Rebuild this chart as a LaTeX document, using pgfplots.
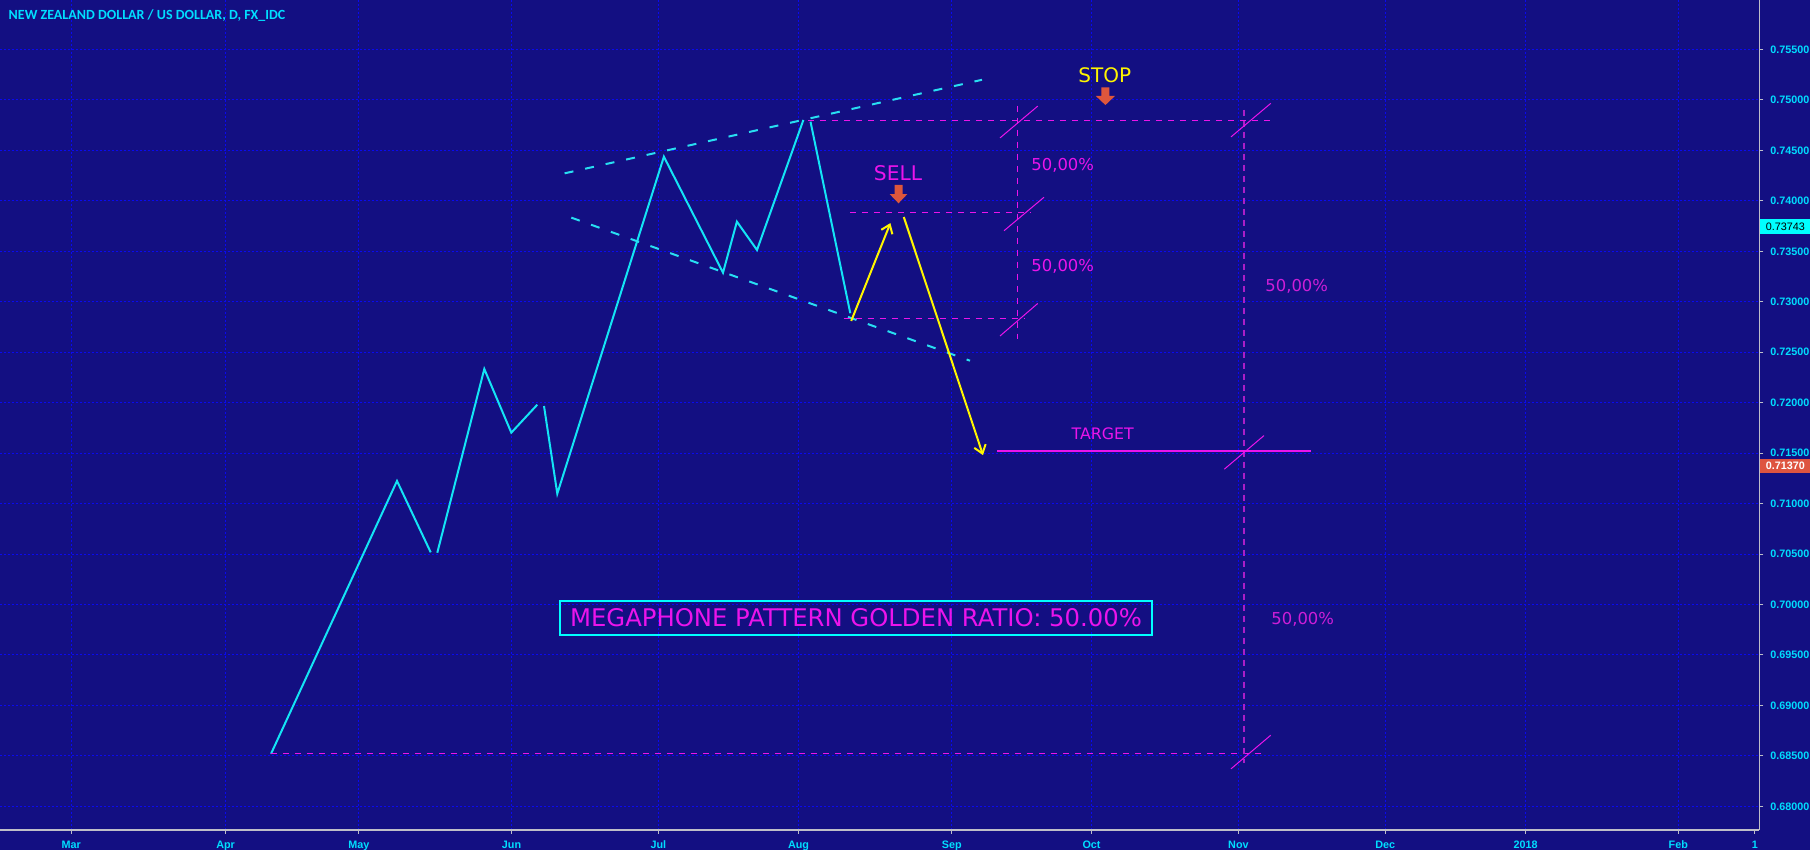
\documentclass[border=0pt]{standalone}
\usepackage{pgfplots}
\pgfplotsset{compat=1.18}
\usepackage{fontspec}
\usetikzlibrary{arrows.meta}
\newfontfamily\tickfont{Liberation Sans}
\newfontfamily\dv{DejaVu Sans}
\newfontfamily\titlefont{Carlito}
\definecolor{bg}{RGB}{19,15,130}
\definecolor{gridblue}{RGB}{10,10,240}
\definecolor{pricecyan}{RGB}{20,228,245}
\definecolor{dashcyan}{RGB}{40,222,242}
\definecolor{ylw}{RGB}{255,245,0}
\definecolor{mag}{RGB}{235,20,235}
\definecolor{mag2}{RGB}{205,30,215}
\definecolor{purp}{RGB}{170,30,200}
\definecolor{arrred}{RGB}{222,86,60}
\definecolor{tickcyan}{RGB}{0,222,255}
\definecolor{axgray}{RGB}{190,190,200}
\definecolor{tagcyan}{RGB}{0,255,255}
\definecolor{tagred}{RGB}{222,84,64}
\begin{document}
\begin{tikzpicture}
\fill[bg] (0,-10pt) rectangle (905pt,415pt);
\begin{axis}[
  at={(0,0)}, anchor=south west,
  width=879.7pt, height=415pt, scale only axis,
  xmin=0, xmax=1759.4, ymin=0.67765, ymax=0.75991,
  clip=false, no markers,
  axis x line*=bottom, axis y line*=right,
  axis line style={draw=axgray, line width=0.6pt},
  scaled x ticks=false, scaled y ticks=false,
  xtick={71.2,225.6,358.8,511.5,658.4,798.5,951.7,1091.5,1238.4,1385.2,1525.7,1678.3},
  xticklabels={Mar,Apr,May,Jun,Jul,Aug,Sep,Oct,Nov,Dec,2018,Feb},
  extra x ticks={1754.9}, extra x tick labels={1},
  extra x tick style={grid=none},
  ytick={0.680,0.685,0.690,0.695,0.700,0.705,0.710,0.715,0.720,0.725,0.730,0.735,0.740,0.745,0.750,0.755},
  yticklabel pos=right,
  grid=major,
  major grid style={draw=gridblue, line width=0.5pt, dash pattern=on 1pt off 1pt},
  tick align=outside, major tick length=2pt,
  tick style={draw=axgray, line width=0.5pt},
  yticklabel style={/pgf/number format/fixed, /pgf/number format/fixed zerofill, /pgf/number format/precision=5, /pgf/number format/assume math mode=true, anchor=west, inner sep=0pt, xshift=3.3pt, font=\tickfont\bfseries\fontsize{5.4}{6}\selectfont, text=tickcyan},
  xticklabel style={anchor=base, inner sep=0pt, yshift=-7.2pt, font=\tickfont\bfseries\fontsize{5.4}{6}\selectfont, text=tickcyan},
]
% cyan price path
\addplot[pricecyan, line width=1pt] coordinates {(271,0.6852) (397,0.71224) (430.7,0.70517)};
\addplot[pricecyan, line width=1pt] coordinates {(437.3,0.70513) (484.3,0.72334) (511.3,0.71703) (537.3,0.71980)};
\addplot[pricecyan, line width=1pt] coordinates {(544,0.71967) (557.3,0.71098) (663.9,0.74438) (723,0.73288) (736.9,0.73794) (757,0.73513) (803.4,0.74802)};
\addplot[pricecyan, line width=1pt] coordinates {(810.5,0.74785) (850.3,0.72886)};
% megaphone dashed lines
\addplot[dashcyan, line width=1pt, dash pattern=on 4.5pt off 6pt] coordinates {(564.6,0.74273) (982,0.7520)};
\addplot[dashcyan, line width=1pt, dash pattern=on 4.5pt off 6pt] coordinates {(571.3,0.73834) (970,0.72416)};
% yellow arrows
\addplot[ylw, line width=1pt, -{Straight Barb[length=4pt,width=6pt]}] coordinates {(851.2,0.7281) (890.4,0.7378)};
\addplot[ylw, line width=1pt, -{Straight Barb[length=4pt,width=6pt]}] coordinates {(903.8,0.7384) (983,0.7148)};
% magenta dashed levels
\addplot[mag, line width=0.5pt, dash pattern=on 3pt off 3pt] coordinates {(808,0.7480) (1270.7,0.7480)};
\addplot[mag, line width=0.5pt, dash pattern=on 3pt off 3pt] coordinates {(850.3,0.7388) (1031,0.7388)};
\addplot[mag, line width=0.5pt, dash pattern=on 3pt off 3pt] coordinates {(843.6,0.7283) (1024,0.7283)};
\addplot[mag, line width=0.5pt, dash pattern=on 3pt off 3pt] coordinates {(271,0.6852) (1266,0.6852)};
\addplot[mag, line width=0.5pt, dash pattern=on 3pt off 3pt] coordinates {(1017.3,0.74943) (1017.3,0.72627)};
\addplot[purp, line width=1.2pt, dash pattern=on 3pt off 2.5pt] coordinates {(1244,0.74905) (1244,0.68429)};
% target line
\addplot[mag, line width=0.7pt] coordinates {(997.3,0.7152) (1310.7,0.7152)};
% slash marks
\addplot[mag, line width=0.5pt] coordinates {(1000,0.74624) (1037.7,0.74939)};
\addplot[mag, line width=0.5pt] coordinates {(1004,0.73704) (1044,0.74036)};
\addplot[mag, line width=0.5pt] coordinates {(1000,0.72661) (1037.7,0.72983)};
\addplot[mag, line width=0.5pt] coordinates {(1231,0.74634) (1270.7,0.74966)};
\addplot[mag, line width=0.5pt] coordinates {(1224.3,0.71341) (1264,0.71674)};
\addplot[mag, line width=0.5pt] coordinates {(1231,0.68371) (1270.7,0.68704)};
% block arrows
\addplot[fill=arrred, draw=none] coordinates {(1101.4,0.75126) (1109.4,0.75126) (1109.4,0.75040) (1115,0.75040) (1105.4,0.74950) (1095.8,0.75040) (1101.4,0.75040)} --cycle;
\addplot[fill=arrred, draw=none] coordinates {(894.5,0.74158) (902.5,0.74158) (902.5,0.74068) (907.4,0.74068) (898.5,0.73976) (889.6,0.74068) (894.5,0.74068)} --cycle;
% texts
\node[anchor=west, inner sep=0pt, font=\titlefont\bfseries\fontsize{7}{8}\selectfont, text=tickcyan] at (axis cs:8.3,0.75833) {NEW ZEALAND DOLLAR / US DOLLAR, D, FX\_IDC};
\node[inner sep=0pt, font=\dv\fontsize{10.1}{12}\selectfont, text=mag] at (axis cs:898,0.74276) {SELL};
\node[inner sep=0pt, font=\dv\fontsize{10}{12}\selectfont, text=ylw] at (axis cs:1104.7,0.75248) {STOP};
\node[inner sep=0pt, font=\dv\fontsize{8.2}{10}\selectfont, text=mag] at (axis cs:1062.7,0.74349) {50,00\%};
\node[inner sep=0pt, font=\dv\fontsize{8.2}{10}\selectfont, text=mag] at (axis cs:1062.7,0.73348) {50,00\%};
\node[inner sep=0pt, font=\dv\fontsize{8.2}{10}\selectfont, text=mag2] at (axis cs:1296.7,0.73157) {50,00\%};
\node[inner sep=0pt, font=\dv\fontsize{8.2}{10}\selectfont, text=mag2] at (axis cs:1302.7,0.69849) {50,00\%};
\node[inner sep=0pt, font=\dv\fontsize{7.9}{10}\selectfont, text=mag] at (axis cs:1102.7,0.71692) {TARGET};
\node[draw=tagcyan, line width=1pt, inner sep=0pt, minimum width=296pt, minimum height=17pt, font=\dv\fontsize{12.15}{14}\selectfont, text=mag] at (axis cs:856,0.69866) {MEGAPHONE PATTERN GOLDEN RATIO: 50.00\%};
% price tags
\node[fill=tagcyan, anchor=west, inner sep=0pt, minimum width=25.5pt, minimum height=7.5pt, font=\tickfont\fontsize{5.4}{6}\selectfont, text=black] at (axis cs:1759.4,0.73743) {0.73743};
\node[fill=tagred, anchor=west, inner sep=0pt, minimum width=25.5pt, minimum height=7pt, font=\tickfont\bfseries\fontsize{5.4}{6}\selectfont, text=white] at (axis cs:1759.4,0.7137) {0.71370};
\end{axis}
\pgfresetboundingbox
\path (0,-10pt) rectangle (905pt,415pt);
\end{tikzpicture}
\end{document}
